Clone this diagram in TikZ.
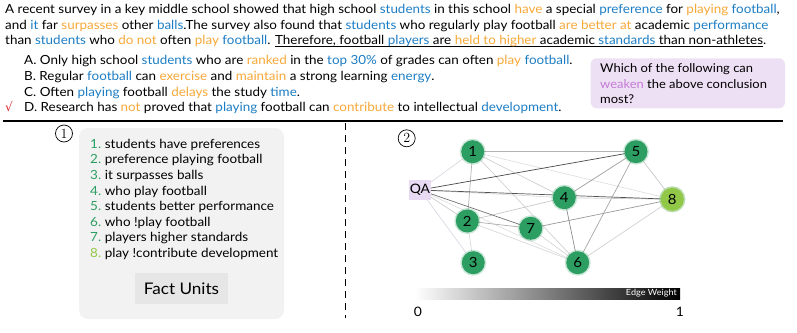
\documentclass[tikz,border=0pt]{standalone}
\usepackage{fontspec}
\setmainfont{Lato}[FakeStretch=1.07]
\newfontfamily\symfont{DejaVu Sans}
\newfontfamily\circfont{Latin Modern Roman}
\usetikzlibrary{backgrounds}
\definecolor{kblue}{RGB}{28,125,196}
\definecolor{korange}{RGB}{247,168,56}
\definecolor{kpurple}{RGB}{196,122,214}
\definecolor{kgreen}{RGB}{44,158,98}
\definecolor{klime}{RGB}{146,200,72}
\definecolor{kpanel}{RGB}{242,242,242}
\definecolor{kfact}{RGB}{230,230,230}
\definecolor{kqbox}{RGB}{238,224,244}
\definecolor{kqa}{RGB}{232,218,242}
\definecolor{kcheck}{RGB}{220,40,40}
\newcommand\kb[1]{{\color{kblue}#1}}
\newcommand\ko[1]{{\color{korange}#1}}
\newsavebox\kulbox
\newcommand\kul[1]{\sbox\kulbox{#1}\rlap{\rule[-1.8pt]{\wd\kulbox}{0.8pt}}\usebox\kulbox}
\tikzset{
  txt/.style={anchor=base west, inner sep=0pt, font=\fontsize{12.55}{14}\selectfont},
  qtxt/.style={anchor=base west, inner sep=0pt, font=\fontsize{12.1}{14}\selectfont},
  fact/.style={anchor=base west, inner sep=0pt, font=\fontsize{12.6}{14}\selectfont},
  circnum/.style={circle, draw, line width=0.7pt, inner sep=0.6pt, minimum size=17pt, font=\circfont\fontsize{14}{14}\selectfont},
  gnode/.style={circle, fill=kgreen, minimum size=23pt, inner sep=0pt,
    font=\fontsize{14}{14}\selectfont,
    preaction={draw=kgreen, line width=3pt, opacity=0.25}},
  lnode/.style={gnode, fill=klime, preaction={draw=klime, line width=3pt, opacity=0.3}},
  ed/.style={line width=0.7pt},
}
\begin{document}
\begin{tikzpicture}[x=1pt,y=-1pt]
\useasboundingbox (0,0) rectangle (797,332);
% paragraph
\node[txt] (p1) at (5,13.5) {A recent survey in a key middle school showed that high school \kb{students} in this school \ko{have} a special \kb{preference} for \ko{playing} \kb{football},};
\node[txt] (p2) at (5,29) {and \kb{it} far \ko{surpasses} other \kb{balls}.The survey also found that \kb{students} who regularly play football \ko{are better at} academic \kb{performance}};
\node[txt] (p3) at (5,44.5) {than \kb{students} who \ko{do not} often \ko{play} \kb{football}. \kul{Therefore, football \kb{players} are \ko{held to higher} academic \kb{standards} than non-athletes}.};
% options
\node[txt] (oa) at (24,64.5) {A. Only high school \kb{students} who are \ko{ranked} in the \kb{top 30\%} of grades can often \ko{play} \kb{football}.};
\node[txt] (ob) at (24,80.5) {B. Regular \kb{football} can \ko{exercise} and \ko{maintain} a strong learning \kb{energy}.};
\node[txt] (oc) at (24,96.3) {C. Often \kb{playing} football \ko{delays} the study \kb{time}.};
\node[txt] (od) at (24,111.8) {D. Research has \ko{not} proved that \kb{playing} football can \ko{contribute} to intellectual \kb{development}.};
\node[anchor=base west, inner sep=0pt, text=kcheck, font=\symfont\fontsize{12}{12}\selectfont] (chk) at (5,111.5) {√};
% question box
\fill[kqbox, rounded corners=6pt] (590.7,58.3) rectangle (785,108.3);
\node[qtxt] (q1) at (600,72.3) {Which of the following can};
\node[qtxt] (q2) at (600,88) {{\color{kpurple}weaken} the above conclusion};
\node[qtxt] (q3) at (600,103) {most?};
% separators
\draw[line width=2.5pt] (3,121) -- (783,121);
\draw[line width=1.2pt, dash pattern=on 7pt off 5pt] (345.7,123) -- (345.7,318);
% left panel
\fill[kpanel, rounded corners=9pt] (79,128) rectangle (284,319);
\node[circnum] (c1) at (64,133.5) {1};
\foreach \i/\t [count=\k] in {1/students have preferences, 2/preference playing football, 3/it surpasses balls, 4/who play football, 5/students better performance, 6/who !play football, 7/players higher standards}{
  \node[fact, text=kgreen] (n\i) at (90,{148.3+15.6*(\k-1)}) {\i.};
  \node[fact] (f\i) at (104.7,{148.3+15.6*(\k-1)}) {\t};
}
\node[fact, text=klime] (n8) at (90,{148.3+15.6*7}) {8.};
\node[fact] (f8) at (104.7,{148.3+15.6*7}) {play !contribute development};
\fill[kfact] (135,273) rectangle (228,304);
\node[inner sep=0pt, font=\fontsize{16}{16}\selectfont] (fu) at (181.5,288.5) {Fact Units};
% graph
\node[circnum] (c2) at (406.7,138.3) {2};
\node[fill=kqa, minimum width=22pt, minimum height=20pt, inner sep=0pt, font=\fontsize{13}{13}\selectfont] (qa) at (420,190) {QA};
\node[gnode] (g1) at (472.7,151.7) {1};
\node[gnode] (g5) at (636,151.7) {5};
\node[gnode] (g4) at (564.3,197.7) {4};
\node[lnode] (g8) at (672.3,199.3) {8};
\node[gnode] (g2) at (467.3,221) {2};
\node[gnode] (g7) at (530.7,228.3) {7};
\node[gnode] (g3) at (473.3,262.7) {3};
\node[gnode] (g6) at (577.7,262.7) {6};
\begin{pgfonlayer}{background}
\draw[ed, draw=blue!20!black!15] (qa.center) -- (g1.center);
\draw[ed, draw=blue!30!black!15] (qa.center) -- (g3.center);
\draw[ed, draw=black!12] (qa.center) -- (g6.center);
\draw[ed, draw=black!14] (qa.center) -- (g4.center);
\draw[ed, draw=black!20] (qa.center) -- (g2.center);
\draw[ed, draw=black!12] (g1.center) -- (g8.center);
\draw[ed, draw=black!18] (g1.center) -- (g4.center);
\draw[ed, draw=black!18] (g1.center) -- (g6.center);
\draw[ed, draw=black!30] (g1.center) -- (g2.center);
\draw[ed, draw=black!30] (g1.center) -- (g5.center);
\draw[ed, draw=black!22] (g5.center) -- (g8.center);
\draw[ed, draw=black!35] (g5.center) -- (g6.center);
\draw[ed, draw=black!38] (g5.center) -- (g4.center);
\draw[ed, draw=black!20] (g4.center) -- (g8.center);
\draw[ed, draw=black!45] (g4.center) -- (g6.center);
\draw[ed, draw=black!22] (g4.center) -- (g2.center);
\draw[ed, draw=black!40] (g7.center) -- (g8.center);
\draw[ed, draw=black!16] (g7.center) -- (g6.center);
\draw[ed, draw=black!32] (g2.center) -- (g7.center);
\draw[ed, draw=black!15] (g2.center) -- (g6.center);
\draw[ed, draw=black!15] (g2.center) -- (g3.center);
\draw[ed, draw=black!18] (g6.center) -- (g8.center);
\draw[ed, draw=black!55] (qa.center) -- (g7.center);
\draw[ed, draw=black!72] (qa.center) -- (g5.center);
\draw[ed, draw=black!68] (qa.center) -- (g8.center);
\end{pgfonlayer}
% colour bar
\shade[left color=white, right color=black] (415,288) rectangle (680,299);
\node[anchor=east, inner sep=0pt, text=white, font=\fontsize{8.5}{9}\selectfont] (ew) at (677,293.6) {Edge Weight};
\node[anchor=base, inner sep=0pt, font=\fontsize{13}{13}\selectfont] (z0) at (418,316.5) {0};
\node[anchor=base, inner sep=0pt, font=\fontsize{13}{13}\selectfont] (z1) at (680,316.5) {1};
\end{tikzpicture}
\end{document}
